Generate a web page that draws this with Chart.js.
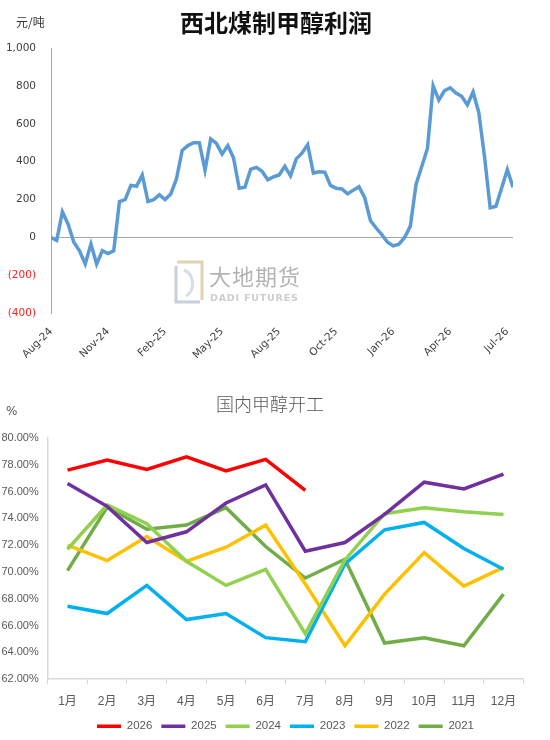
<!DOCTYPE html>
<html>
<head>
<meta charset="utf-8">
<script src="https://cdn.jsdelivr.net/npm/chart.js@4.4.1/dist/chart.umd.min.js"></script>
<style>
html,body{margin:0;padding:0;background:#fff;}
body{width:550px;height:740px;overflow:hidden;position:relative;}
#c1{position:absolute;left:0;top:0;}
#c2{position:absolute;left:0;top:380px;}
.title1{position:absolute;left:0;width:552px;top:5px;text-align:center;font:bold 24px "Noto Sans CJK SC",sans-serif;color:#111;line-height:34px;}
.unit1{position:absolute;left:16px;top:13px;font:12px "Noto Sans CJK SC",sans-serif;color:#333;}
.title2{position:absolute;left:0;width:540px;top:391px;text-align:center;font:300 18px "Noto Sans CJK SC",sans-serif;color:#595959;line-height:24px;}
.unit2{position:absolute;left:6px;top:404px;font:12px "DejaVu Sans",sans-serif;color:#595959;}
#wm{position:absolute;left:172px;top:258px;width:130px;height:50px;opacity:0.75;white-space:nowrap;}
#wm .cn{position:absolute;left:37px;top:2px;font:22px "Noto Sans CJK SC",sans-serif;color:#9a9a9a;letter-spacing:1px;line-height:30px;}
#wm .en{position:absolute;left:38px;top:34px;font:bold 9.5px "DejaVu Sans",sans-serif;color:#bdbdbd;letter-spacing:0.8px;}
</style>
</head>
<body>
<canvas id="c1" width="550" height="365"></canvas>
<canvas id="c2" width="550" height="362"></canvas>
<div class="title1">西北煤制甲醇利润</div>
<div class="unit1">元/吨</div>
<div class="title2">国内甲醇开工</div>
<div class="unit2">%</div>
<div id="wm">
  <svg width="34" height="48" style="position:absolute;left:0;top:0">
    <path d="M5 4 L30 4 L30 42" stroke="#d8c49a" stroke-width="3" fill="none"/>
    <path d="M4 8 L4 44 L28 44" stroke="#b3c0d3" stroke-width="3" fill="none"/>
    <path d="M12 12 C22 16 24 32 14 38" stroke="#c9d3e2" stroke-width="3" fill="none"/>
  </svg>
  <div class="cn">大地期货</div>
  <div class="en">DADI FUTURES</div>
</div>
<script>
// ---------- Chart 1: 西北煤制甲醇利润 ----------
const profitTickLabels = ['Aug-24','Nov-24','Feb-25','May-25','Aug-25','Oct-25','Jan-26','Apr-26','Jul-26'];
const pointsPerTick = 10;
const profitValues = [
  0, -15, 135, 70, -25, -70, -140, -35, -140, -70,
  -85, -70, 190, 200, 275, 270, 330, 190, 200, 225,
  200, 230, 310, 460, 485, 500, 500, 355, 520, 497,
  440, 485, 420, 260, 265, 360, 370, 350, 305, 320,
  330, 376, 325, 415, 445, 490, 340, 347, 345, 275,
  260, 256, 230, 250, 268, 210, 90, 50, 15, -25,
  -44, -35, 0, 60, 280, 375, 470, 800, 725, 775,
  790, 762, 745, 700, 768, 660, 428, 157, 165, 260,
  358, 265
];

const H1 = 365;
new Chart(document.getElementById('c1'), {
  type: 'line',
  data: {
    datasets: [{
      data: profitValues.map((v, i) => ({x: i, y: v})),
      borderColor: '#5B9BD5',
      borderWidth: 3.5,
      pointRadius: 0,
      tension: 0,
      fill: false
    }]
  },
  options: {
    responsive: false,
    animation: false,
    layout: {padding: {top: 48, right: 37, left: 0, bottom: 0}},
    plugins: {legend: {display: false}, tooltip: {enabled: false}, title: {display: false}},
    scales: {
      x: {
        type: 'linear',
        min: 0,
        max: profitValues.length - 1,
        grid: {display: false},
        border: {display: false},
        ticks: {
          stepSize: pointsPerTick,
          includeBounds: false,
          autoSkip: false,
          maxRotation: 45,
          minRotation: 45,
          padding: 4,
          color: '#404040',
          font: {family: 'DejaVu Sans', size: 10.5},
          callback: (v) => (v % pointsPerTick === 0 && profitTickLabels[v / pointsPerTick]) ? profitTickLabels[v / pointsPerTick] : ''
        },
        afterFit: (s) => { s.height = H1 - 313.3; }
      },
      y: {
        min: -400,
        max: 1000,
        grid: {
          drawTicks: false,
          color: (ctx) => (ctx.tick && ctx.tick.value === 0) ? '#a6a6a6' : 'rgba(0,0,0,0)',
          lineWidth: 1
        },
        border: {display: true, color: '#a6a6a6', width: 1},
        ticks: {
          stepSize: 200,
          padding: 15,
          color: (ctx) => (ctx.tick && ctx.tick.value < 0) ? '#ff2020' : '#404040',
          font: {family: 'DejaVu Sans', size: 10.5},
          callback: (v) => v < 0 ? '(' + Math.abs(v) + ')' : v.toLocaleString('en-US')
        },
        afterFit: (s) => { s.width = 51; }
      }
    }
  }
});

// ---------- Chart 2: 国内甲醇开工 ----------
const months = ['1月','2月','3月','4月','5月','6月','7月','8月','9月','10月','11月','12月'];
const rate2026 = [77.6, 78.35, 77.65, 78.6, 77.55, 78.4, 76.1];
const rate2025 = [76.6, 74.9, 72.2, 73.0, 75.15, 76.5, 71.55, 72.2, 74.3, 76.7, 76.2, 77.3];
const rate2024 = [71.7, 75.0, 73.6, 70.8, 69.0, 70.2, 65.4, 70.9, 74.35, 74.8, 74.5, 74.3];
const rate2023 = [67.45, 66.9, 69.0, 66.45, 66.9, 65.1, 64.8, 70.6, 73.15, 73.7, 71.75, 70.2];
const rate2022 = [72.0, 70.85, 72.65, 70.8, 71.85, 73.5, 69.1, 64.5, 68.35, 71.45, 68.95, 70.35];
const rate2021 = [70.1, 74.85, 73.2, 73.5, 74.8, 71.9, 69.55, 70.95, 64.7, 65.1, 64.5, 68.35];
const seriesNames = ['2026','2025','2024','2023','2022','2021'];
const seriesColors = ['#FF0000','#7030A0','#92D050','#00B0F0','#FFC000','#70AD47'];
const seriesData = [rate2026, rate2025, rate2024, rate2023, rate2022, rate2021];

const narrowFont = 'Liberation Sans, Noto Sans CJK SC, sans-serif';
new Chart(document.getElementById('c2'), {
  type: 'line',
  data: {
    labels: months,
    datasets: seriesData.map((d, k) => ({
      label: seriesNames[k],
      data: d,
      borderColor: seriesColors[k],
      backgroundColor: seriesColors[k],
      borderWidth: 3.5,
      pointRadius: 0,
      tension: 0,
      fill: false
    }))
  },
  options: {
    responsive: false,
    animation: false,
    layout: {padding: {top: 58, right: 26.7, left: 0, bottom: 0}},
    plugins: {
      tooltip: {enabled: false},
      title: {display: false},
      legend: {
        position: 'bottom',
        fullSize: false,
        labels: {
          usePointStyle: true,
          pointStyle: 'line',
          pointStyleWidth: 24,
          boxHeight: 12,
          padding: 9,
          color: '#595959',
          font: {family: narrowFont, size: 11.5}
        }
      }
    },
    scales: {
      x: {
        offset: true,
        grid: {offset: true, drawOnChartArea: false, drawTicks: true, tickLength: 5, color: '#d9d9d9'},
        border: {display: true, color: '#d9d9d9', width: 1.5},
        ticks: {
          padding: 10,
          color: '#595959',
          maxRotation: 0,
          autoSkip: false,
          font: {family: narrowFont, size: 12}
        },
        afterFit: (s) => { s.height = 32.3; }
      },
      y: {
        min: 62,
        max: 80,
        grid: {display: false, drawTicks: false},
        border: {display: true, color: '#d9d9d9', width: 1.5},
        ticks: {
          stepSize: 2,
          padding: 9,
          color: '#595959',
          font: {family: narrowFont, size: 11},
          callback: (v) => v.toFixed(2) + '%'
        },
        afterFit: (s) => { s.width = 47.7; }
      }
    }
  }
});
</script>
</body>
</html>
